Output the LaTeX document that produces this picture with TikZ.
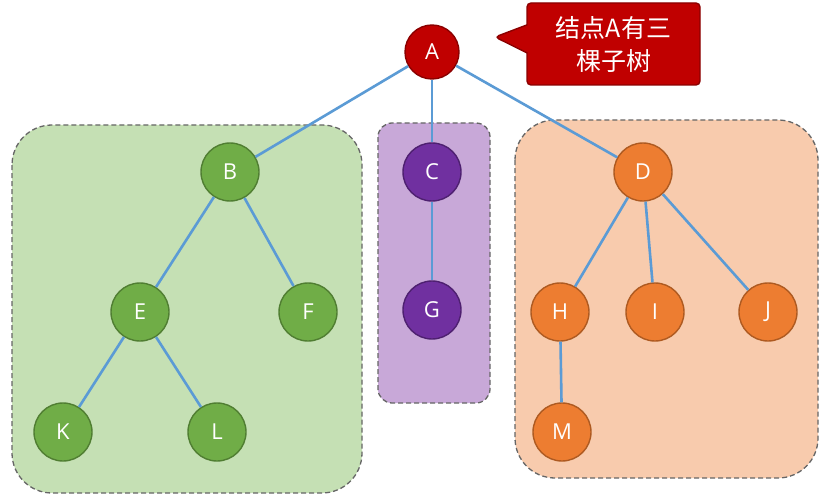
\documentclass[tikz,border=0pt]{standalone}
\usepackage{fontspec}
\setmainfont{Open Sans}
\newfontfamily\cjk{Noto Sans CJK SC}
\usetikzlibrary{shapes.callouts}
\definecolor{gn}{HTML}{70AD47}\definecolor{gnd}{HTML}{507E32}\definecolor{gbox}{HTML}{C5E0B4}
\definecolor{pu}{HTML}{7030A0}\definecolor{pud}{HTML}{4E2070}\definecolor{pbox}{HTML}{C8A8D8}
\definecolor{or}{HTML}{ED7D31}\definecolor{ord}{HTML}{AE5A21}\definecolor{obox}{HTML}{F8CBAD}
\definecolor{rd}{HTML}{C00000}\definecolor{rdd}{HTML}{8B0000}
\definecolor{ln}{HTML}{5B9BD5}
\begin{document}
\begin{tikzpicture}[x=1pt,y=-1pt,
  nd/.style={circle,minimum size=58pt,inner sep=0pt,line width=1.4pt,text=white,font=\fontsize{22}{22}\selectfont},
  g/.style={nd,fill=gn,draw=gnd},p/.style={nd,fill=pu,draw=pud},o/.style={nd,fill=or,draw=ord},
  bx/.style={rounded corners=40pt,draw=black!60,dash pattern=on 5pt off 3pt,line width=1.3pt},
  ed/.style={draw=ln,line width=2.6pt}]
\useasboundingbox (0,0) rectangle (832,500);
\fill[white] (0,0) rectangle (832,500);
\draw[bx,fill=gbox] (12,125) rectangle (362,493);
\draw[bx,fill=pbox,rounded corners=14pt] (378,123) rectangle (490,403);
\draw[bx,fill=obox] (515,120) rectangle (818,478);
\node[nd,fill=rd,draw=rdd,minimum size=54pt] (A) at (432,52) {A};
\node[g] (B) at (230,172) {B};
\node[p] (C) at (432,172) {C};
\node[o] (D) at (643,172) {D};
\node[g] (E) at (140,312) {E};
\node[g] (F) at (308,312) {F};
\node[p] (G) at (432,310) {G};
\node[o] (H) at (560,312) {H};
\node[o] (I) at (655,312) {I};
\node[o] (J) at (768,312) {J};
\node[g] (K) at (63,432) {K};
\node[g] (L) at (217,432) {L};
\node[o] (M) at (562,432) {M};
\foreach \a/\b in {A/B,A/C,A/D,B/E,B/F,E/K,E/L,C/G,D/H,D/I,D/J,H/M}
  \draw[ed] (\a) -- (\b);
\node[rectangle callout,fill=rd,draw=rdd,line width=1.4pt,text=white,rounded corners=4pt,
  minimum width=173pt,minimum height=82pt,align=center,callout pointer width=28pt,
  font=\cjk\fontsize{25}{33}\selectfont,callout absolute pointer={(495,37)}] (T) at (613.5,44) {结点A有三\\棵子树};
\end{tikzpicture}
\end{document}
